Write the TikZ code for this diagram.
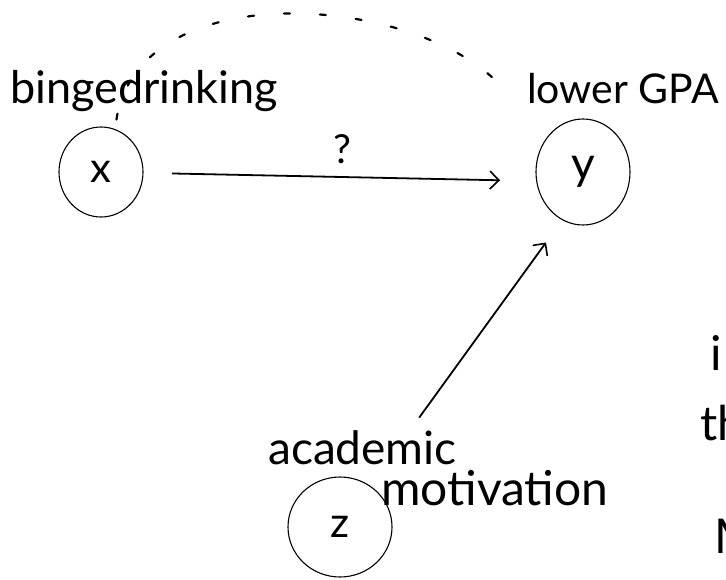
\documentclass[tikz,border=0pt]{standalone}
\usepackage{fontspec}
\setmainfont{Lato}
\usetikzlibrary{shapes.geometric,arrows.meta}
\newcommand{\fs}[1]{\fontsize{#1}{#1}\selectfont}
\tikzset{
  circ/.style={ellipse, draw, line width=1.1pt, inner sep=0pt},
  lbl/.style={anchor=base west, inner sep=0pt},
  arr/.style={line width=1.8pt, -{Straight Barb[length=9pt,width=18pt,line width=1.6pt]}},
  dotc/.style={line width=2.2pt, dash pattern=on 6pt off 30pt, line cap=round}
}
\begin{document}
\begin{tikzpicture}[x=1pt,y=-1pt]
\useasboundingbox (0,0) rectangle (726,579);
\begin{scope}
\clip (0,0) rectangle (726,579);
% circles
\node[circ, minimum width=84pt, minimum height=90pt, font=\fs{42}] (X) at (101,172) {x};
\node[circ, minimum width=94pt, minimum height=106pt, font=\fs{46}] (Y) at (583,172) {y};
\node[circ, minimum width=104pt, minimum height=100pt, font=\fs{42}] (Z) at (340,527) {z};
% labels
\node[lbl, font=\fs{45}] (BD) at (10,103) {bingedrinking};
\node[lbl, font=\fs{41}] (GPA) at (527,103) {lower GPA};
\node[lbl, font=\fs{46}] (AC) at (268,464) {academic};
\node[lbl, font=\fs{48}] (MO) at (381,505) {motivation};
\node[anchor=base, inner sep=0pt, font=\fs{40}] (Q) at (342,163) {?};
% cut-off text at right edge
\node[lbl, font=\fs{48}] (R1) at (710,370) {i};
\node[lbl, font=\fs{48}] (R2) at (700,440) {th};
\node[lbl, font=\fs{48}] (R3) at (714,553) {M};
% connectors
\draw[arr, shorten <=71pt, shorten >=83pt] (X.center) -- ([yshift=-10pt]Y.center);
\draw[arr, shorten <=135pt, shorten >=87pt] (Z.center) -- ([xshift=14pt]Y.center);
\draw[dotc] ([yshift=10pt]X.70) .. controls (140,-30) and (430,-5) .. ([xshift=-20pt,yshift=-5pt]GPA.west);
\end{scope}
\end{tikzpicture}
\end{document}
